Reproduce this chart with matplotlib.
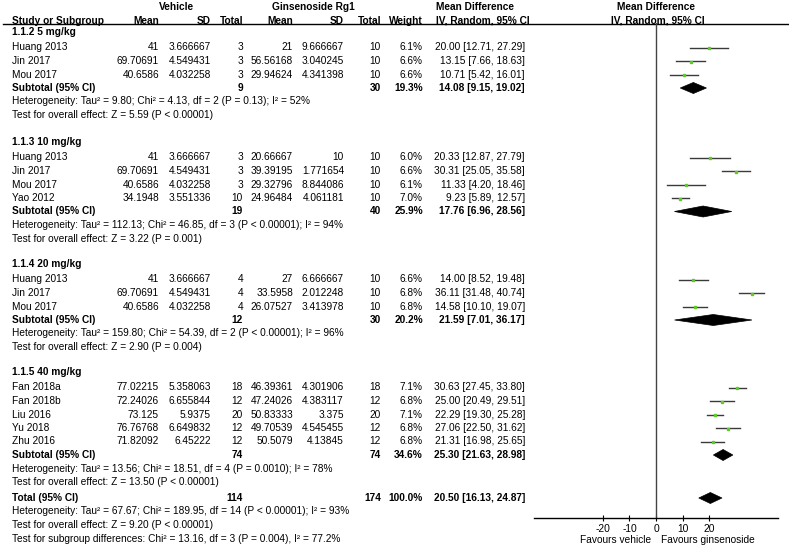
import matplotlib.pyplot as plt
from matplotlib.patches import Polygon

plt.rcParams['font.family'] = ['Liberation Sans', 'DejaVu Sans']
plt.rcParams['axes.unicode_minus'] = False

# study level data
study = ["Huang 2013", "Jin 2017", "Mou 2017",
         "Huang 2013", "Jin 2017", "Mou 2017", "Yao 2012",
         "Huang 2013", "Jin 2017", "Mou 2017",
         "Fan 2018a", "Fan 2018b", "Liu 2016", "Yu 2018", "Zhu 2016"]
group = [0, 0, 0, 1, 1, 1, 1, 2, 2, 2, 3, 3, 3, 3, 3]
veh_mean = [41, 69.70691, 40.6586, 41, 69.70691, 40.6586, 34.1948, 41, 69.70691, 40.6586,
            77.02215, 72.24026, 73.125, 76.76768, 71.82092]
veh_sd = [3.666667, 4.549431, 4.032258, 3.666667, 4.549431, 4.032258, 3.551336, 3.666667, 4.549431, 4.032258,
          5.358063, 6.655844, 5.9375, 6.649832, 6.45222]
veh_n = [3, 3, 3, 3, 3, 3, 10, 4, 4, 4, 18, 12, 20, 12, 12]
gin_mean = [21, 56.56168, 29.94624, 20.66667, 39.39195, 29.32796, 24.96484, 27, 33.5958, 26.07527,
            46.39361, 47.24026, 50.83333, 49.70539, 50.5079]
gin_sd = [9.666667, 3.040245, 4.341398, 10, 1.771654, 8.844086, 4.061181, 6.666667, 2.012248, 3.413978,
          4.301906, 4.383117, 3.375, 4.545455, 4.13845]
gin_n = [10, 10, 10, 10, 10, 10, 10, 10, 10, 10, 18, 12, 20, 12, 12]
weight = [6.1, 6.6, 6.6, 6.0, 6.6, 6.1, 7.0, 6.6, 6.8, 6.8, 7.1, 6.8, 7.1, 6.8, 6.8]
md = [20.00, 13.15, 10.71, 20.33, 30.31, 11.33, 9.23, 14.00, 36.11, 14.58, 30.63, 25.00, 22.29, 27.06, 21.31]
lo = [12.71, 7.66, 5.42, 12.87, 25.05, 4.20, 5.89, 8.52, 31.48, 10.10, 27.45, 20.49, 19.30, 22.50, 16.98]
hi = [27.29, 18.63, 16.01, 27.79, 35.58, 18.46, 12.57, 19.48, 40.74, 19.07, 33.80, 29.51, 25.28, 31.62, 25.65]

# subgroup data
groups = ["1.1.2 5 mg/kg", "1.1.3 10 mg/kg", "1.1.4 20 mg/kg", "1.1.5 40 mg/kg"]
sub_veh_n = [9, 19, 12, 74]
sub_gin_n = [30, 40, 30, 74]
sub_w = [19.3, 25.9, 20.2, 34.6]
sub_md = [14.08, 17.76, 21.59, 25.30]
sub_lo = [9.15, 6.96, 7.01, 21.63]
sub_hi = [19.02, 28.56, 36.17, 28.98]
tau2 = [9.80, 112.13, 159.80, 13.56]
chi2 = [4.13, 46.85, 54.39, 18.51]
dfs = [2, 3, 2, 4]
p_het = ["P = 0.13", "P < 0.00001", "P < 0.00001", "P = 0.0010"]
i2 = [52, 94, 96, 78]
z = [5.59, 3.22, 2.90, 13.50]
p_z = ["P < 0.00001", "P = 0.001", "P = 0.004", "P < 0.00001"]

# overall
tot_veh_n, tot_gin_n, tot_w = 114, 174, 100.0
tot_md, tot_lo, tot_hi = 20.50, 16.13, 24.87
tot_het = "Heterogeneity: Tau² = 67.67; Chi² = 189.95, df = 14 (P < 0.00001); I² = 93%"
tot_z = "Test for overall effect: Z = 9.20 (P < 0.00001)"
sub_diff = "Test for subgroup differences: Chi² = 13.16, df = 3 (P = 0.004), I² = 77.2%"

W, H = 789, 553
fig = plt.figure(figsize=(W / 100, H / 100), dpi=100)
ax = fig.add_axes([0, 0, 1, 1])
ax.set_xlim(0, W)
ax.set_ylim(H, 0)
ax.axis('off')

# forest panel: x in mean difference units, y in pixel rows
fx0, fx1, fy0, fy1 = 534, 778, 23, 518
fa = fig.add_axes([fx0 / W, 1 - fy1 / H, (fx1 - fx0) / W, (fy1 - fy0) / H])
fa.set_xlim(-46, 46)
fa.set_ylim(fy1, fy0)
fa.patch.set_alpha(0)
for s in ['top', 'left', 'right']:
    fa.spines[s].set_visible(False)
fa.spines['bottom'].set_linewidth(1)
fa.set_yticks([])
fa.set_xticks([-20, -10, 0, 10, 20])
fa.tick_params(axis='x', direction='inout', length=5, width=0.8, pad=1.5, labelsize=7.4)
fa.axvline(0, color='#444444', lw=1)

fs = 7.3
c_mean1, c_sd1, c_n1 = 159, 211, 243
c_mean2, c_sd2, c_n2 = 293, 344, 381
c_w, c_ci = 423, 525


def t(x, y, s, ha='left', bold=False):
    ax.text(x, y, s, ha=ha, va='center', fontsize=fs, fontweight='bold' if bold else 'normal')


def diamond(y, m, l, h):
    fa.add_patch(Polygon([(l, y), (m, y - 5.5), (h, y), (m, y + 5.5)], closed=True,
                         facecolor='black', edgecolor='black', lw=0.5))


# headers
t(177, 7, "Vehicle", ha='center', bold=True)
t(313, 7, "Ginsenoside Rg1", ha='center', bold=True)
t(436, 7, "Mean Difference", bold=True)
t(656, 7, "Mean Difference", ha='center', bold=True)
t(12, 20.5, "Study or Subgroup", bold=True)
t(c_mean1, 20.5, "Mean", ha='right', bold=True)
t(c_sd1, 20.5, "SD", ha='right', bold=True)
t(c_n1, 20.5, "Total", ha='right', bold=True)
t(c_mean2, 20.5, "Mean", ha='right', bold=True)
t(c_sd2, 20.5, "SD", ha='right', bold=True)
t(c_n2, 20.5, "Total", ha='right', bold=True)
t(c_w, 20.5, "Weight", ha='right', bold=True)
t(436, 20.5, "IV, Random, 95% CI", bold=True)
t(658, 20.5, "IV, Random, 95% CI", ha='center', bold=True)
ax.plot([3, W], [23.5, 23.5], color='black', lw=1)

step = 13.5
head_y = [32, 142, 264, 372]
for g in range(len(groups)):
    y = head_y[g]
    t(12, y, groups[g], bold=True)
    y += 15.5
    for i in [k for k in range(len(study)) if group[k] == g]:
        t(12, y, study[i])
        t(c_mean1, y, f"{veh_mean[i]:.7g}", ha='right')
        t(c_sd1, y, f"{veh_sd[i]:.7g}", ha='right')
        t(c_n1, y, str(veh_n[i]), ha='right')
        t(c_mean2, y, f"{gin_mean[i]:.7g}", ha='right')
        t(c_sd2, y, f"{gin_sd[i]:.7g}", ha='right')
        t(c_n2, y, str(gin_n[i]), ha='right')
        t(c_w, y, f"{weight[i]:.1f}%", ha='right')
        t(c_ci, y, f"{md[i]:.2f} [{lo[i]:.2f}, {hi[i]:.2f}]", ha='right')
        fa.plot([lo[i], hi[i]], [y, y], color='#3a3a3a', lw=1)
        fa.plot(md[i], y + 0.8, marker='s', ms=1.9, color='#5ec92a', mec='#5ec92a')
        y += step
    t(12, y, "Subtotal (95% CI)", bold=True)
    t(c_n1, y, str(sub_veh_n[g]), ha='right', bold=True)
    t(c_n2, y, str(sub_gin_n[g]), ha='right', bold=True)
    t(c_w, y, f"{sub_w[g]:.1f}%", ha='right', bold=True)
    t(c_ci, y, f"{sub_md[g]:.2f} [{sub_lo[g]:.2f}, {sub_hi[g]:.2f}]", ha='right', bold=True)
    diamond(y, sub_md[g], sub_lo[g], sub_hi[g])
    y += step
    t(12, y, f"Heterogeneity: Tau² = {tau2[g]:.2f}; Chi² = {chi2[g]:.2f}, df = {dfs[g]} "
             f"({p_het[g]}); I² = {i2[g]}%")
    y += step
    t(12, y, f"Test for overall effect: Z = {z[g]:.2f} ({p_z[g]})")

y = 498
t(12, y, "Total (95% CI)", bold=True)
t(c_n1, y, str(tot_veh_n), ha='right', bold=True)
t(c_n2, y, str(tot_gin_n), ha='right', bold=True)
t(c_w, y, f"{tot_w:.1f}%", ha='right', bold=True)
t(c_ci, y, f"{tot_md:.2f} [{tot_lo:.2f}, {tot_hi:.2f}]", ha='right', bold=True)
diamond(y, tot_md, tot_lo, tot_hi)
t(12, y + step, tot_het)
t(12, y + 2 * step, tot_z)
t(12, y + 3 * step, sub_diff)

# favours labels
fa.text(-2, 540, "Favours vehicle", ha='right', va='center', fontsize=fs, clip_on=False)
fa.text(2, 540, "Favours ginsenoside", ha='left', va='center', fontsize=fs, clip_on=False)

fig.savefig("out.png", dpi=100)
